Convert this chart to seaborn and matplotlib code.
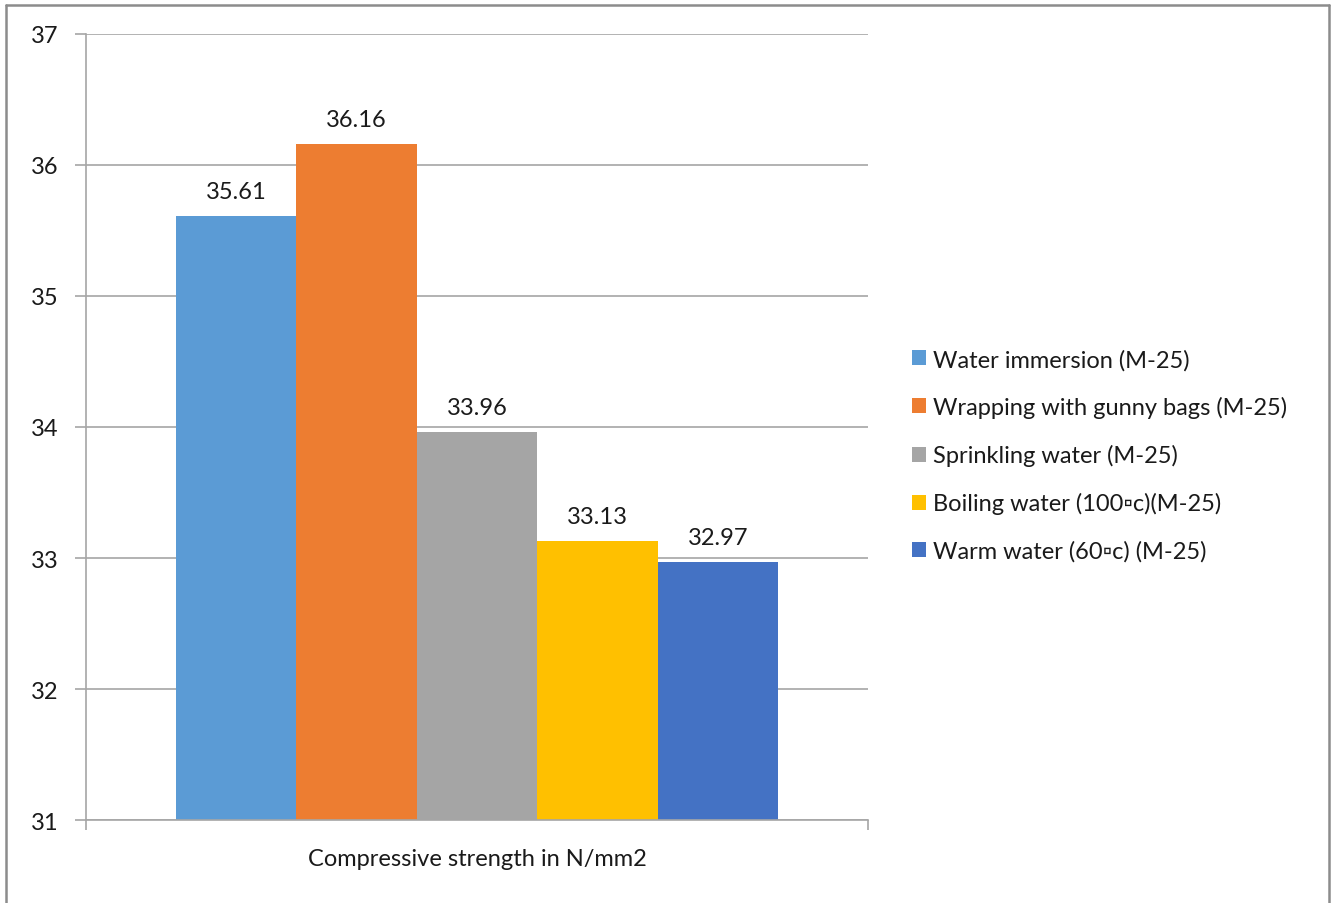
import matplotlib
matplotlib.use("Agg")
import matplotlib.pyplot as plt
import seaborn as sns
import pandas as pd
from matplotlib.lines import Line2D

# Curing methods and their compressive strengths (N/mm2)
methods = [
    "Water immersion (M-25)",
    "Wrapping with gunny bags (M-25)",
    "Sprinkling water (M-25)",
    "Boiling water (100\u25abc)(M-25)",
    "Warm water (60\u25abc) (M-25)",
]
strength = [35.61, 36.16, 33.96, 33.13, 32.97]
category = "Compressive strength in N/mm2"
colors = ["#5B9BD5", "#ED7D31", "#A5A5A5", "#FFC000", "#4472C4"]
y_ticks = [31, 32, 33, 34, 35, 36, 37]

df = pd.DataFrame({"category": [category] * len(methods),
                   "method": methods,
                   "strength": strength})

sns.set_theme(style="white")
plt.rcParams["font.family"] = ["Lato", "DejaVu Sans"]

FS = 17
TXT = "#1a1a1a"

fig = plt.figure(figsize=(13.33, 9.04), dpi=100)
ax = fig.add_axes([0.0645, 0.0918, 0.5867, 0.8695])

sns.barplot(data=df, x="category", y="strength", hue="method",
            hue_order=methods, palette=colors, width=0.77,
            saturation=1, linewidth=0, ax=ax, legend=True)

# Bars start at the axis floor rather than zero
for patch in ax.patches:
    h = patch.get_height()
    patch.set_y(y_ticks[0])
    patch.set_height(h - y_ticks[0])

for cont in ax.containers:
    vals = [f"{v:.2f}" for v in cont.datavalues]
    ax.bar_label(cont, labels=vals, padding=10, fontsize=FS, color=TXT)

ax.set_ylim(y_ticks[0], y_ticks[-1])
ax.set_xlim(-0.5, 0.5)
ax.set_yticks(y_ticks)
ax.set_yticklabels([str(t) for t in y_ticks], fontsize=FS, color=TXT)
ax.set_xticks([-0.5, 0.5], minor=False)
ax.set_xticklabels(["", ""])
ax.set_xticks([0], minor=True)
ax.set_xticklabels([category], minor=True, fontsize=FS, color=TXT)
ax.tick_params(axis="x", which="minor", length=0, pad=20)
ax.tick_params(axis="x", which="major", length=7, width=1.2, color="#A6A6A6",
               direction="out", bottom=True)
ax.tick_params(axis="y", length=8, width=1.2, color="#A6A6A6", pad=12,
               direction="out", left=True)
ax.set_xlabel("")
ax.set_ylabel("")

ax.yaxis.grid(True, color="#A6A6A6", linewidth=1.2)
ax.set_axisbelow(True)
for side in ["top", "right"]:
    ax.spines[side].set_visible(False)
for side in ["left", "bottom"]:
    ax.spines[side].set_color("#A6A6A6")
    ax.spines[side].set_linewidth(1.2)

leg = ax.legend(loc="center left", bbox_to_anchor=(1.044, 0.464),
                frameon=False, fontsize=FS, handlelength=0.6,
                handleheight=0.6, handletextpad=0.3, labelspacing=1.1,
                borderaxespad=0)
for t in leg.get_texts():
    t.set_color(TXT)

# Chart area border (left, top, right edges)
bc = "#8C8C8C"
x0, x1 = 5.5 / 1333, 1328.5 / 1333
y1 = 1 - 5.5 / 904
fig.add_artist(Line2D([x0, x0], [0, y1], transform=fig.transFigure, color=bc, lw=1.8))
fig.add_artist(Line2D([x0, x1], [y1, y1], transform=fig.transFigure, color=bc, lw=1.8))
fig.add_artist(Line2D([x1, x1], [0, y1], transform=fig.transFigure, color=bc, lw=1.8))

fig.savefig("out.png", dpi=100)
